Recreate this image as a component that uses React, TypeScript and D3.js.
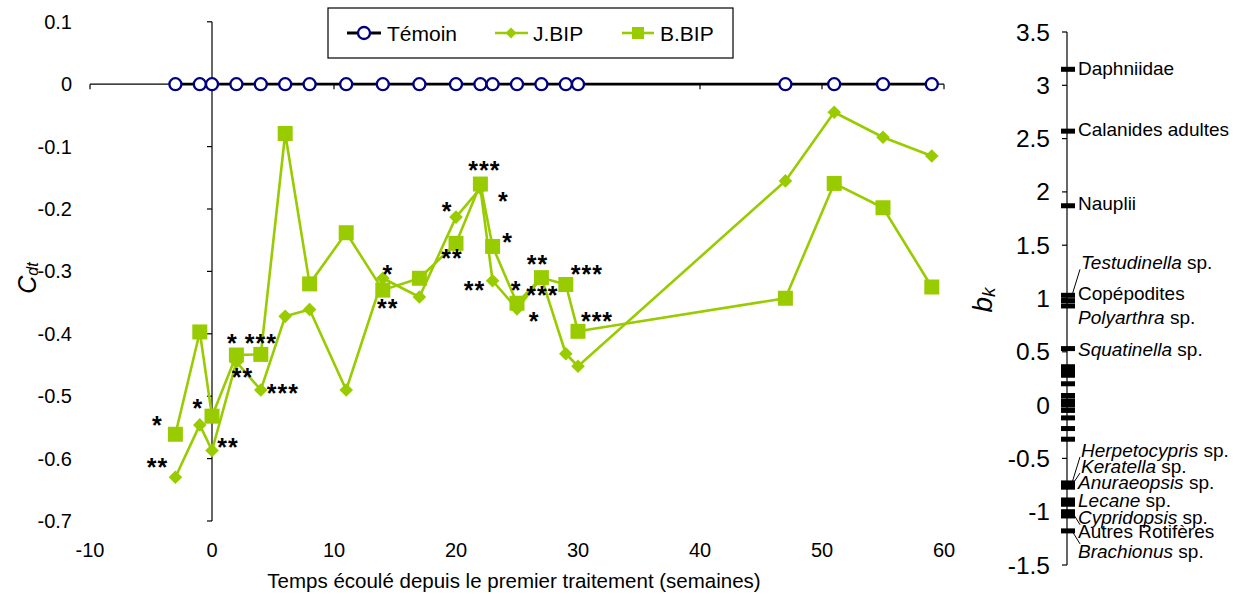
import React from "react";
import * as d3 from "d3";

// Sampling weeks relative to the first treatment
const weeks = [-3, -1, 0, 2, 4, 6, 8, 11, 14, 17, 20, 22, 23, 25, 27, 29, 30, 47, 51, 55, 59];
// Canonical coefficients C_dt per treatment
const temoin = [0, 0, 0, 0, 0, 0, 0, 0, 0, 0, 0, 0, 0, 0, 0, 0, 0, 0, 0, 0, 0];
const jbip = [-0.63, -0.546, -0.587, -0.445, -0.49, -0.372, -0.361, -0.49, -0.311, -0.341, -0.213, -0.167, -0.315, -0.36, -0.31, -0.432, -0.452, -0.155, -0.045, -0.085, -0.115];
const bbip = [-0.561, -0.397, -0.532, -0.434, -0.433, -0.079, -0.32, -0.238, -0.33, -0.311, -0.255, -0.16, -0.26, -0.351, -0.31, -0.321, -0.396, -0.343, -0.159, -0.198, -0.325];

const xTicks = [-10, 0, 10, 20, 30, 40, 50, 60];
const yTicks = [0.1, 0, -0.1, -0.2, -0.3, -0.4, -0.5, -0.6, -0.7];
const bTicks = [3.5, 3, 2.5, 2, 1.5, 1, 0.5, 0, -0.5, -1, -1.5];

// Significance of each treatment vs control
const signif = [
  { series: "B", week: -3, label: "*" },
  { series: "J", week: -3, label: "**" },
  { series: "J", week: -1, label: "*" },
  { series: "J", week: 0, label: "**" },
  { series: "B", week: 2, label: "*" },
  { series: "B", week: 4, label: "***" },
  { series: "J", week: 2, label: "**" },
  { series: "J", week: 4, label: "***" },
  { series: "J", week: 14, label: "*" },
  { series: "B", week: 14, label: "**" },
  { series: "B", week: 22, label: "***" },
  { series: "J", week: 20, label: "*" },
  { series: "J", week: 22, label: "*" },
  { series: "B", week: 20, label: "**" },
  { series: "B", week: 23, label: "*" },
  { series: "J", week: 23, label: "**" },
  { series: "B", week: 25, label: "*" },
  { series: "J", week: 25, label: "*" },
  { series: "B", week: 27, label: "**" },
  { series: "J", week: 27, label: "***" },
  { series: "B", week: 29, label: "***" },
  { series: "B", week: 30, label: "***" },
];
// label placement around its point (px)
const signifOffsets = [
  [-18, -14], [-18, -15], [-2, -22], [16, -8], [-4, -17], [0, -16], [6, 10], [22, -2],
  [5, -9], [5, 13], [4, -19], [-9, -11], [23, 8], [-4, 10], [15, -9], [-18, 4],
  [-1, -18], [17, 7], [-4, -18], [1, 13], [21, -15], [19, -15],
];

// Taxon weights b_k
const taxa = [
  "Daphniidae", "Calanides adultes", "Nauplii", "Testudinella sp.", "Copépodites", "Polyarthra sp.",
  "Squatinella sp.", "", "", "", "", "", "", "", "", "", "", "",
  "Herpetocypris sp.", "Keratella sp.", "Anuraeopsis sp.", "Lecane sp.", "", "Cypridopsis sp.",
  "Autres Rotifères", "Brachionus sp.",
];
const bk = [
  3.15, 2.57, 1.87, 1.03, 0.98, 0.93,
  0.53, 0.36, 0.32, 0.28, 0.2, 0.09, 0.04, 0.0, -0.05, -0.12, -0.22, -0.32,
  -0.73, -0.75, -0.77, -0.89, -0.93, -1.04,
  -1.0, -1.18,
];
// vertical shift of each taxon label from its mark (px)
const taxaLabelShift = [
  -1, -2, -2, -33, -7, 11,
  0, 0, 0, 0, 0, 0, 0, 0, 0, 0, 0, 0,
  -33, -19, -5, 0, 0, 1,
  20, 20,
];

const FONT = "'Liberation Sans', Arial, Helvetica, sans-serif";
const GREEN = "#99CC00";
const NAVY = "#000080";

const x = d3.scaleLinear().domain([-10, 60]).range([90, 944]);
const y = d3.scaleLinear().domain([-0.7, 0.1]).range([521, 21.8]);
const yb = d3.scaleLinear().domain([-1.5, 3.5]).range([565, 32]);

const fmt = (v: number) => (Math.abs(v) < 1e-9 ? "0" : String(+v.toFixed(2)));

function Diamond({ cx, cy, r }: { cx: number; cy: number; r: number }) {
  return <path d={`M${cx},${cy - r}L${cx + r},${cy}L${cx},${cy + r}L${cx - r},${cy}Z`} fill={GREEN} />;
}

function Square({ cx, cy, s }: { cx: number; cy: number; s: number }) {
  return <rect x={cx - s / 2} y={cy - s / 2} width={s} height={s} fill={GREEN} />;
}

function TaxonLabel({ name, x0, y0 }: { name: string; x0: number; y0: number }) {
  const m = name.match(/^(\S+)( sp\.)$/);
  return (
    <text x={x0} y={y0} fontSize={19} fontFamily={FONT} dominantBaseline="central" fill="#000">
      {m ? (
        <>
          <tspan fontStyle="italic">{m[1]}</tspan>
          <tspan>{m[2]}</tspan>
        </>
      ) : (
        name
      )}
    </text>
  );
}

export default function App() {
  const line = d3
    .line<number>()
    .x((_, i) => x(weeks[i]))
    .y((d) => y(d));

  const seriesVal = (s: string, w: number) => {
    const i = weeks.indexOf(w);
    return s === "J" ? jbip[i] : bbip[i];
  };

  const axisX = 1067;
  const starFs = 25;

  return (
    <div style={{ position: "absolute", left: 0, top: 0 }}>
      <svg width={1242} height={594} viewBox="0 0 1242 594" style={{ display: "block", background: "#fff" }}>
        {/* x axis along C = 0 */}
        <line x1={x(-10)} x2={x(60)} y1={y(0)} y2={y(0)} stroke="#000" strokeWidth={1.2} />
        {xTicks.map((t) => (
          <line key={t} x1={x(t)} x2={x(t)} y1={y(0)} y2={y(0) + 5} stroke="#000" strokeWidth={1.2} />
        ))}
        {xTicks.map((t) => (
          <text key={t} x={x(t)} y={550} textAnchor="middle" dominantBaseline="central" fontSize={20} fontFamily={FONT}>
            {t}
          </text>
        ))}
        {/* y axis at week 0 */}
        <line x1={x(0)} x2={x(0)} y1={y(0.1)} y2={y(-0.7)} stroke="#000" strokeWidth={1.2} />
        {yTicks.map((t) => (
          <line key={t} x1={x(0) - 5} x2={x(0)} y1={y(t)} y2={y(t)} stroke="#000" strokeWidth={1.2} />
        ))}
        {yTicks.map((t) => (
          <text key={t} x={72} y={y(t)} textAnchor="end" dominantBaseline="central" fontSize={20} fontFamily={FONT}>
            {fmt(t)}
          </text>
        ))}
        <text
          transform={`translate(27,278) rotate(-90)`}
          textAnchor="middle"
          dominantBaseline="central"
          fontSize={25}
          fontFamily={FONT}
        >
          <tspan fontStyle="italic">C</tspan>
          <tspan fontStyle="italic" fontSize={16} dy={5}>dt</tspan>
        </text>
        <text x={514} y={580} textAnchor="middle" dominantBaseline="central" fontSize={20.5} fontFamily={FONT}>
          Temps écoulé depuis le premier traitement (semaines)
        </text>

        {/* Témoin */}
        <path d={line(temoin) || ""} fill="none" stroke="#000" strokeWidth={2.8} />
        {temoin.map((v, i) => (
          <circle key={i} cx={x(weeks[i])} cy={y(v)} r={6} fill="#fff" stroke={NAVY} strokeWidth={2.3} />
        ))}
        {/* J.BIP */}
        <path d={line(jbip) || ""} fill="none" stroke={GREEN} strokeWidth={2.6} strokeLinejoin="round" />
        {jbip.map((v, i) => (
          <Diamond key={i} cx={x(weeks[i])} cy={y(v)} r={6.8} />
        ))}
        {/* B.BIP */}
        <path d={line(bbip) || ""} fill="none" stroke={GREEN} strokeWidth={2.6} strokeLinejoin="round" />
        {bbip.map((v, i) => (
          <Square key={i} cx={x(weeks[i])} cy={y(v)} s={15} />
        ))}

        {/* significance stars */}
        {signif.map((s, i) => {
          const [dx, dy] = signifOffsets[i];
          const cx = x(s.week) + dx;
          const cy = y(seriesVal(s.series, s.week)) + dy;
          return (
            <text
              key={i}
              x={cx}
              y={cy + starFs * 0.55}
              textAnchor="middle"
              fontSize={starFs}
              fontWeight="bold"
              fontFamily={FONT}
              letterSpacing={1}
            >
              {s.label}
            </text>
          );
        })}

        {/* legend */}
        <rect x={328} y={8} width={405} height={50} fill="#fff" stroke="#000" strokeWidth={1.2} />
        <line x1={347} x2={381} y1={33} y2={33} stroke="#000" strokeWidth={2.8} />
        <circle cx={364} cy={33} r={6} fill="#fff" stroke={NAVY} strokeWidth={2.3} />
        <text x={387} y={33} dominantBaseline="central" fontSize={21} fontFamily={FONT}>Témoin</text>
        <line x1={495} x2={528} y1={33} y2={33} stroke={GREEN} strokeWidth={2.6} />
        <Diamond cx={511} cy={33} r={5.5} />
        <text x={533} y={33} dominantBaseline="central" fontSize={21} fontFamily={FONT}>J.BIP</text>
        <line x1={622} x2={654} y1={33} y2={33} stroke={GREEN} strokeWidth={2.6} />
        <Square cx={638} cy={33} s={12} />
        <text x={660} y={33} dominantBaseline="central" fontSize={21} fontFamily={FONT}>B.BIP</text>

        {/* b_k panel */}
        <line x1={axisX} x2={axisX} y1={yb(3.5)} y2={yb(-1.5)} stroke="#000" strokeWidth={1.2} />
        {bTicks.map((t) => (
          <line key={t} x1={axisX - 5} x2={axisX} y1={yb(t)} y2={yb(t)} stroke="#000" strokeWidth={1.2} />
        ))}
        {bTicks.map((t) => (
          <text key={t} x={1050} y={yb(t)} textAnchor="end" dominantBaseline="central" fontSize={24.5} fontFamily={FONT}>
            {fmt(t)}
          </text>
        ))}
        <text
          transform={`translate(982,300) rotate(-90)`}
          textAnchor="middle"
          dominantBaseline="central"
          fontSize={28}
          fontFamily={FONT}
        >
          <tspan fontStyle="italic">b</tspan>
          <tspan fontStyle="italic" fontSize={19} dy={6}>k</tspan>
        </text>
        {bk.map((b, i) => (
          <rect key={i} x={axisX - 6} y={yb(b) - 2.5} width={14} height={5} fill="#000" />
        ))}
        {taxa.map((name, i) => {
          if (!name) return null;
          const my = yb(bk[i]);
          const ly = my + taxaLabelShift[i];
          const lx = 1078;
          const lead = Math.abs(taxaLabelShift[i]) > 15;
          const endY = ly + (taxaLabelShift[i] < 0 ? 7 : -7);
          return (
            <g key={i}>
              {lead && <line x1={axisX + 5} y1={my} x2={lx + 2} y2={endY} stroke="#000" strokeWidth={1} />}
              <TaxonLabel name={name} x0={lx + (lead && taxaLabelShift[i] < 0 ? 3 : 0)} y0={ly} />
            </g>
          );
        })}
      </svg>
    </div>
  );
}
